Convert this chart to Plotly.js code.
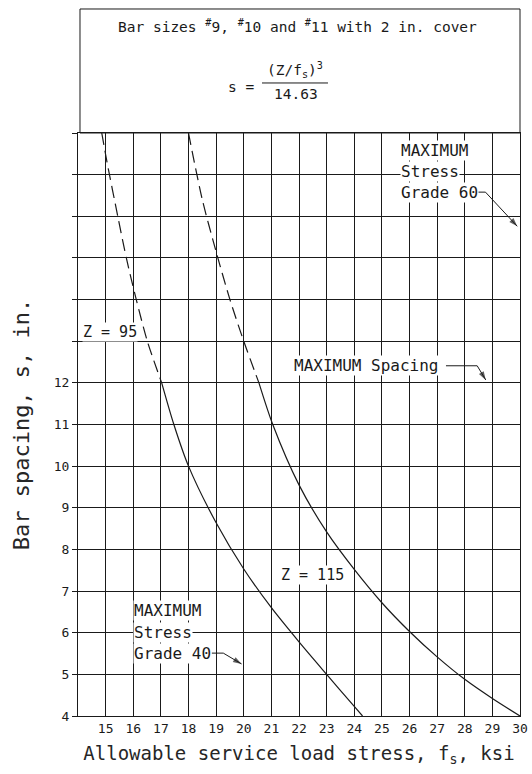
<!DOCTYPE html>
<html>
<head>
<meta charset="utf-8">
<script src="https://cdn.plot.ly/plotly-3.0.1.min.js"></script>
<style>
html, body { margin: 0; padding: 0; background: #fff; }
#chart { width: 532px; height: 774px; }
</style>
</head>
<body>
<div id="chart"></div>
<script>
// ---- data ----
var xTickVals = [15, 16, 17, 18, 19, 20, 21, 22, 23, 24, 25, 26, 27, 28, 29, 30];
var xTickText = ['15', '16', '17', '18', '19', '20', '21', '22', '23', '24', '25', '26', '27', '28', '29', '30'];
var yTickVals = [4, 5, 6, 7, 8, 9, 10, 11, 12];
var yTickText = ['4', '5', '6', '7', '8', '9', '10', '11', '12'];

// Z = 95 curve (dashed above the maximum spacing, solid below)
var z95DashFs = [14.86, 15.05, 15.44, 15.75, 16.11, 16.51, 17.03];
var z95DashS  = [18.0, 17.3, 16.0, 15.0, 14.0, 13.0, 12.0];
var z95SolidFs = [17.03, 17.47, 18.0, 19.0, 20.0, 21.0, 22.0, 23.0, 24.0, 24.3];
var z95SolidS  = [12.0, 11.0, 10.0, 8.64, 7.53, 6.6, 5.78, 5.0, 4.23, 4.0];

// Z = 115 curve
var z115DashFs = [18.0, 18.5, 19.0, 19.5, 20.0, 20.55];
var z115DashS  = [18.0, 16.4, 15.15, 14.0, 13.0, 12.0];
var z115SolidFs = [20.55, 21.05, 22.0, 23.0, 24.0, 25.0, 26.0, 27.0, 28.0, 29.0, 30.0];
var z115SolidS  = [12.0, 11.0, 9.55, 8.42, 7.52, 6.72, 6.03, 5.42, 4.88, 4.42, 4.0];

var FONT = 'DejaVu Sans Mono, monospace';
var INK = '#1a1a1a';

function curve(xs, ys, dashed) {
  return {
    x: xs, y: ys, type: 'scatter', mode: 'lines', hoverinfo: 'skip', showlegend: false,
    line: { color: INK, width: 1.2, shape: 'spline', smoothing: 0.8, dash: dashed ? '12px,6px' : 'solid' }
  };
}
// leader line of a note: text end -> bend -> arrow tip
function leader(pts) {
  return {
    x: pts.map(function (p) { return p[0]; }), y: pts.map(function (p) { return p[1]; }),
    type: 'scatter', mode: 'lines+markers', hoverinfo: 'skip', showlegend: false, cliponaxis: false,
    line: { color: INK, width: 1 },
    marker: { symbol: 'arrow', angleref: 'previous', color: INK, line: { width: 0 },
      size: pts.map(function (p, i) { return i === pts.length - 1 ? 9 : 0; }) }
  };
}

var traces = [
  curve(z95DashFs, z95DashS, true),
  curve(z95SolidFs, z95SolidS, false),
  curve(z115DashFs, z115DashS, true),
  curve(z115SolidFs, z115SolidS, false),
  leader([[27.32, 12.41], [28.45, 12.41], [28.76, 12.07]]),
  leader([[28.47, 16.58], [28.75, 16.58], [29.9, 15.76]]),
  leader([[18.84, 5.51], [19.26, 5.51], [19.92, 5.25]])
];

function label(text, x, y, size) {
  return { text: text, x: x, y: y, xref: 'x', yref: 'y', xanchor: 'left', yanchor: 'middle',
    showarrow: false, bgcolor: '#fff', borderpad: 0, font: { family: FONT, size: size || 16, color: INK } };
}

var annotations = [
  { text: 'Bar sizes <sup>#</sup>9, <sup>#</sup>10 and <sup>#</sup>11 with 2 in. cover', xref: 'paper', yref: 'paper',
    x: 0.4966, y: 1.1835, xanchor: 'center', yanchor: 'middle', showarrow: false,
    font: { family: FONT, size: 14.5, color: INK } },
  { text: 's =', xref: 'paper', yref: 'paper', x: 0.368, y: 1.0789, xanchor: 'center', yanchor: 'middle',
    showarrow: false, font: { family: FONT, size: 14.5, color: INK } },
  { text: '(Z/f<sub>s</sub>)<sup>3</sup>', xref: 'paper', yref: 'paper', x: 0.4905, y: 1.0875, xanchor: 'center', yanchor: 'bottom',
    showarrow: false, font: { family: FONT, size: 14.5, color: INK } },
  { text: '14.63', xref: 'paper', yref: 'paper', x: 0.4928, y: 1.0845, xanchor: 'center', yanchor: 'top',
    showarrow: false, font: { family: FONT, size: 14.5, color: INK } },

  label('Z = 95', 14.13, 13.22, 15),
  label('Z = 115', 21.32, 7.39, 15),
  label('MAXIMUM Spacing', 21.8, 12.41, 16),
  label('MAXIMUM', 25.67, 17.58, 16),
  label('Stress', 25.67, 17.08, 16),
  label('Grade 60', 25.67, 16.58, 16),
  label('MAXIMUM', 16.0, 6.53, 16),
  label('Stress', 16.0, 6.0, 16),
  label('Grade 40', 16.0, 5.51, 16)
];

var shapes = [
  { type: 'rect', xref: 'paper', yref: 'paper', x0: 0.0045, x1: 1, y0: 1, y1: 1.2127, line: { color: INK, width: 1 } },
  { type: 'line', xref: 'paper', yref: 'paper', x0: 0.4163, x1: 0.5656, y0: 1.0858, y1: 1.0858, line: { color: INK, width: 1 } }
];

var layout = {
  width: 532, height: 774,
  margin: { l: 78, r: 12, t: 133, b: 58, autoexpand: false },
  paper_bgcolor: '#fff', plot_bgcolor: '#fff',
  showlegend: false,
  font: { family: FONT, color: INK },
  xaxis: {
    range: [14, 30], tickmode: 'array', tickvals: xTickVals, ticktext: xTickText,
    ticks: '', showgrid: true, gridcolor: INK, gridwidth: 1, zeroline: false,
    showline: true, linecolor: INK, linewidth: 1, mirror: true,
    tickfont: { family: FONT, size: 13, color: INK },
    title: { text: 'Allowable service load stress, f<sub>s</sub>, ksi', font: { family: FONT, size: 19, color: '#262626' }, standoff: 12 },
    automargin: false, fixedrange: true
  },
  yaxis: {
    range: [4, 18], tickmode: 'array', tickvals: yTickVals, ticktext: yTickText,
    ticks: 'outside', ticklen: 5, tickwidth: 1, tickcolor: INK,
    showgrid: true, gridcolor: INK, gridwidth: 1, zeroline: false,
    showline: true, linecolor: INK, linewidth: 1, mirror: true,
    minor: { tick0: 4, dtick: 1, ticks: 'outside', ticklen: 5, tickwidth: 1, tickcolor: INK, showgrid: true, gridcolor: INK, gridwidth: 1 },
    tickfont: { family: FONT, size: 13, color: INK },
    title: { text: 'Bar spacing, s, in.', font: { family: FONT, size: 22, color: '#262626' }, standoff: 18 },
    automargin: false, fixedrange: true
  },
  annotations: annotations,
  shapes: shapes
};

Plotly.newPlot('chart', traces, layout, { staticPlot: true, displayModeBar: false });
</script>
</body>
</html>
